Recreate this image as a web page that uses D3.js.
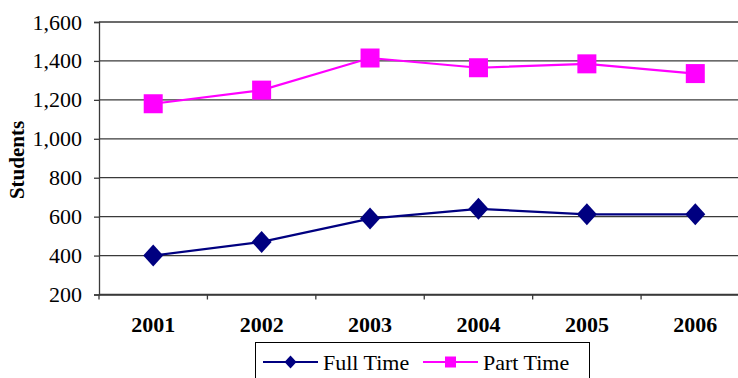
<!DOCTYPE html>
<html>
<head>
<meta charset="utf-8">
<script src="https://cdn.jsdelivr.net/npm/d3@7/dist/d3.min.js"></script>
<style>
  html, body { margin: 0; padding: 0; background: #fff; }
  svg { display: block; font-family: "Liberation Serif", "Times New Roman", serif; }
</style>
</head>
<body>
<svg id="chart" width="738" height="378"></svg>
<script>
// Enrolment by year
const years = ["2001", "2002", "2003", "2004", "2005", "2006"];
const fullTime = [400, 470, 590, 640, 612, 612];
const partTime = [1180, 1250, 1415, 1365, 1385, 1335];
const yTicks = [200, 400, 600, 800, 1000, 1200, 1400, 1600];
const seriesNames = ["Full Time", "Part Time"];

const svg = d3.select("#chart");

const plot = { left: 99, right: 749.5, top: 22, bottom: 294.5 };

const x = d3.scaleBand().domain(years).range([plot.left, plot.right]);
const y = d3.scaleLinear().domain([200, 1600]).range([plot.bottom, plot.top]);

// Horizontal gridlines
svg.append("g")
  .selectAll("line")
  .data(yTicks)
  .join("line")
  .attr("x1", plot.left).attr("x2", plot.right)
  .attr("y1", d => y(d)).attr("y2", d => y(d))
  .attr("stroke", "#3a3a3a").attr("stroke-width", 1.3);

// Y axis
const yAxis = d3.axisLeft(y)
  .tickValues(yTicks)
  .tickSize(5)
  .tickPadding(12)
  .tickFormat(d3.format(","));
const gy = svg.append("g").attr("transform", `translate(${plot.left},0)`).call(yAxis);
gy.select(".domain").attr("stroke", "#3a3a3a").attr("stroke-width", 1.3);
gy.selectAll(".tick line").attr("stroke", "#3a3a3a").attr("stroke-width", 1.3);
gy.selectAll(".tick text")
  .attr("font-family", "Liberation Serif")
  .attr("font-size", 22).attr("fill", "#000");

// X axis
const xAxis = d3.axisBottom(x).tickSize(0).tickPadding(22);
const gx = svg.append("g").attr("transform", `translate(0,${plot.bottom})`).call(xAxis);
gx.select(".domain").attr("stroke", "#3a3a3a").attr("stroke-width", 1.3);
gx.selectAll(".tick text")
  .attr("font-family", "Liberation Serif")
  .attr("font-size", 22).attr("font-weight", "bold").attr("fill", "#000");

// Category boundary ticks
svg.append("g")
  .selectAll("line")
  .data(years)
  .join("line")
  .attr("x1", d => x(d)).attr("x2", d => x(d))
  .attr("y1", plot.bottom).attr("y2", plot.bottom + 5)
  .attr("stroke", "#3a3a3a").attr("stroke-width", 1.3);

// Y axis title
svg.append("text")
  .attr("transform", "translate(24,160) rotate(-90)")
  .attr("text-anchor", "middle")
  .attr("font-size", 21).attr("font-weight", "bold")
  .text("Students");

const cx = d => x(d) + x.bandwidth() / 2;
const line = d3.line().x(d => cx(d.year)).y(d => y(d.value));

const series = [
  { name: seriesNames[0], values: fullTime, color: "#000080", shape: "diamond" },
  { name: seriesNames[1], values: partTime, color: "#FF00FF", shape: "square" }
];

function marker(g, shape, color, size) {
  if (shape === "diamond") {
    const w = size / 2, h = size * 0.55;
    g.append("path")
      .attr("d", `M0,${-h}L${w},0L0,${h}L${-w},0Z`)
      .attr("fill", color);
  } else {
    g.append("rect")
      .attr("x", -size / 2).attr("y", -size / 2)
      .attr("width", size).attr("height", size)
      .attr("fill", color);
  }
}

series.forEach(s => {
  const pts = years.map((yr, i) => ({ year: yr, value: s.values[i] }));
  svg.append("path")
    .datum(pts)
    .attr("d", line)
    .attr("fill", "none")
    .attr("stroke", s.color)
    .attr("stroke-width", 2.2);
  svg.append("g")
    .selectAll("g")
    .data(pts)
    .join("g")
    .attr("transform", d => `translate(${cx(d.year)},${y(d.value)})`)
    .each(function () { marker(d3.select(this), s.shape, s.color, s.shape === "diamond" ? 20 : 19); });
});

// Legend
const legend = svg.append("g");
legend.append("rect")
  .attr("x", 255.5).attr("y", 342.5)
  .attr("width", 334).attr("height", 44)
  .attr("fill", "#fff").attr("stroke", "#000").attr("stroke-width", 1);

const legendItems = [
  { s: series[0], x0: 263, textX: 323 },
  { s: series[1], x0: 423, textX: 483 }
];
legendItems.forEach(it => {
  const g = legend.append("g");
  g.append("line")
    .attr("x1", it.x0).attr("x2", it.x0 + 55)
    .attr("y1", 362).attr("y2", 362)
    .attr("stroke", it.s.color).attr("stroke-width", 2);
  const m = g.append("g").attr("transform", `translate(${it.x0 + 27.5},362)`);
  marker(m, it.s.shape, it.s.color, it.s.shape === "diamond" ? 12 : 11);
  g.append("text")
    .attr("x", it.textX).attr("y", 369.5)
    .attr("font-size", 22)
    .text(it.s.name);
});
</script>
</body>
</html>
